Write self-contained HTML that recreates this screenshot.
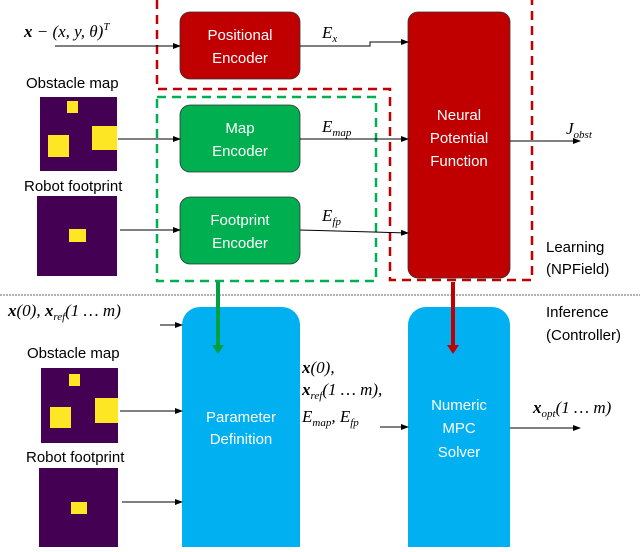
<!DOCTYPE html>
<html><head><style>
body{margin:0;background:#fff}
svg text{font-family:"Liberation Sans",sans-serif}
svg .m text{font-family:"Liberation Serif",serif;font-style:italic}
</style></head><body>
<svg width="640" height="547" viewBox="0 0 640 547" xmlns="http://www.w3.org/2000/svg">
<defs><marker id="a" markerWidth="8" markerHeight="8" refX="7" refY="4" orient="auto" markerUnits="userSpaceOnUse"><path d="M0,1 L8,4 L0,7z" fill="#000"/></marker></defs>
<path d="M157,0 V89 H390 V280 H532 V0" fill="none" stroke="#c00000" stroke-width="2.5" stroke-dasharray="9,6"/>
<rect x="157" y="97" width="219" height="184" fill="none" stroke="#00b050" stroke-width="2.5" stroke-dasharray="9,6"/>
<line x1="0" y1="295" x2="640" y2="295" stroke="#999" stroke-width="1.5" stroke-dasharray="2,1"/>
<rect x="180" y="12" width="120" height="67" rx="10" fill="#c00000" stroke="#333" stroke-width="0.8"/>
<rect x="180" y="105" width="120" height="67" rx="10" fill="#00b050" stroke="#333" stroke-width="0.8"/>
<rect x="180" y="197" width="120" height="67" rx="10" fill="#00b050" stroke="#333" stroke-width="0.8"/>
<rect x="408" y="12" width="102" height="266" rx="10" fill="#c00000" stroke="#333" stroke-width="0.8"/>
<rect x="182" y="307" width="118" height="260" rx="18" fill="#00b0f0"/>
<rect x="408" y="307" width="102" height="260" rx="18" fill="#00b0f0"/>
<g fill="#fff" font-size="15" text-anchor="middle">
<text x="240" y="40">Positional</text><text x="240" y="63">Encoder</text>
<text x="240" y="133">Map</text><text x="240" y="156">Encoder</text>
<text x="240" y="225">Footprint</text><text x="240" y="248">Encoder</text>
<text x="459" y="120">Neural</text><text x="459" y="143">Potential</text><text x="459" y="166">Function</text>
<text x="241" y="422">Parameter</text><text x="241" y="444">Definition</text>
<text x="459" y="410">Numeric</text><text x="459" y="433">MPC</text><text x="459" y="457">Solver</text>
</g>
<rect x="40" y="97" width="77" height="74" fill="#440154"/>
<rect x="67" y="101" width="11" height="12" fill="#fde725"/>
<rect x="48" y="135" width="21" height="22" fill="#fde725"/>
<rect x="92" y="126" width="25" height="24" fill="#fde725"/>
<rect x="37" y="196" width="80" height="80" fill="#440154"/>
<rect x="69" y="229" width="17" height="13" fill="#fde725"/>
<rect x="41" y="368" width="77" height="75" fill="#440154"/>
<rect x="69" y="374" width="11" height="12" fill="#fde725"/>
<rect x="50" y="407" width="21" height="21" fill="#fde725"/>
<rect x="95" y="398" width="23" height="25" fill="#fde725"/>
<rect x="39" y="468" width="79" height="79" fill="#440154"/>
<rect x="71" y="502" width="16" height="12" fill="#fde725"/>
<g stroke="#000" stroke-width="1" fill="none" marker-end="url(#a)">
<line x1="55" y1="46" x2="180" y2="46"/>
<line x1="118" y1="139" x2="180" y2="139"/>
<line x1="120" y1="230" x2="180" y2="230"/>
<path d="M300,46 H370 V42 H408"/>
<line x1="300" y1="139" x2="408" y2="139"/>
<line x1="300" y1="230" x2="408" y2="233"/>
<line x1="510" y1="141" x2="580" y2="141"/>
<line x1="160" y1="325" x2="182" y2="325"/>
<line x1="120" y1="411" x2="182" y2="411"/>
<line x1="122" y1="502" x2="182" y2="502"/>
<line x1="380" y1="427" x2="408" y2="427"/>
<line x1="510" y1="428" x2="580" y2="428"/>
</g>
<line x1="218" y1="282" x2="218" y2="346" stroke="#00a040" stroke-width="4"/>
<path d="M212,345 L224,345 L218,354z" fill="#00a040"/>
<line x1="453" y1="282" x2="453" y2="346" stroke="#c00000" stroke-width="4"/>
<path d="M447,345 L459,345 L453,354z" fill="#c00000"/>
<g font-size="15" fill="#000">
<text x="26" y="88">Obstacle map</text>
<text x="24" y="191">Robot footprint</text>
<text x="27" y="358">Obstacle map</text>
<text x="26" y="462">Robot footprint</text>
<text x="546" y="252">Learning</text><text x="546" y="274">(NPField)</text>
<text x="546" y="317">Inference</text><text x="546" y="340">(Controller)</text>
</g>
<g class="m" font-size="17" fill="#000">
<text x="24" y="37"><tspan font-weight="bold">x</tspan> − (x, y, θ)<tspan dy="-7" font-size="11">T</tspan></text>
<text x="322" y="38">E<tspan dy="4" font-size="11">x</tspan></text>
<text x="322" y="132">E<tspan dy="4" font-size="11">map</tspan></text>
<text x="322" y="221">E<tspan dy="4" font-size="11">fp</tspan></text>
<text x="566" y="134">J<tspan dy="4" font-size="11">obst</tspan></text>
<text x="8" y="316"><tspan font-weight="bold">x</tspan>(0), <tspan font-weight="bold">x</tspan><tspan dy="4" font-size="11">ref</tspan><tspan dy="-4">(1 … m)</tspan></text>
<text x="302" y="373"><tspan font-weight="bold">x</tspan>(0),</text>
<text x="302" y="395"><tspan font-weight="bold">x</tspan><tspan dy="4" font-size="11">ref</tspan><tspan dy="-4">(1 … m),</tspan></text>
<text x="302" y="422">E<tspan dy="4" font-size="11">map</tspan><tspan dy="-4">, E</tspan><tspan dy="4" font-size="11">fp</tspan></text>
<text x="533" y="413"><tspan font-weight="bold">x</tspan><tspan dy="4" font-size="11">opt</tspan><tspan dy="-4">(1 … m)</tspan></text>
</g>
</svg>
</body></html>
